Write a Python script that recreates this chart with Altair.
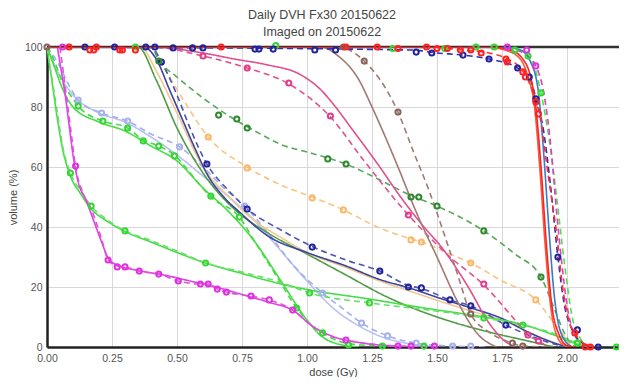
import altair as alt
import pandas as pd

# ---------------- curve data (dose Gy, volume %) ----------------
lav_plan_x = [0, 0.04, 0.1, 0.2, 0.3, 0.4, 0.5, 0.6, 0.7, 0.8, 0.9, 1.0, 1.1, 1.2, 1.3, 1.4, 1.5]
lav_plan_y = [100, 92, 84, 78, 75, 70, 64, 57, 50, 42, 32, 22, 13, 7, 3, 1, 0]
lav_daily_x = [0, 0.04, 0.08, 0.12, 0.21, 0.31, 0.40, 0.51, 0.60, 0.68, 0.76, 0.85, 0.95, 1.06, 1.15, 1.21, 1.31, 1.42, 1.56, 1.7]
lav_daily_y = [100, 95, 88, 82.3, 78, 75.3, 71, 66.7, 60, 53, 47, 38, 27, 18, 12, 8, 3.7, 1.3, 0.3, 0]
lav_mk_x = [0.12, 0.21, 0.31, 0.51, 0.76, 1.06, 1.21, 1.31, 1.42, 1.56, 1.63]
lav_mk_y = [82.3, 78, 75.3, 66.7, 47, 18, 8, 3.7, 1.3, 0.3, 0.3]

g1_plan_x = [0, 0.03, 0.06, 0.1, 0.2, 0.3, 0.4, 0.5, 0.6, 0.7, 0.8, 0.9, 1.0, 1.05, 1.1, 1.2]
g1_plan_y = [100, 93, 86, 80, 75, 72, 67, 62, 53, 45, 35, 22, 9, 4, 1.5, 0]
g1_daily_x = [0, 0.03, 0.06, 0.09, 0.12, 0.215, 0.31, 0.37, 0.43, 0.49, 0.56, 0.63, 0.74, 0.80, 0.88, 0.96, 1.02, 1.06, 1.12, 1.17, 1.3, 1.45]
g1_daily_y = [100, 95, 88, 84, 80.3, 75.3, 73, 69, 67, 64, 57, 50, 43.3, 35, 24, 13, 7, 4.7, 2, 1, 0.3, 0]
g1_mk_x = [0.12, 0.215, 0.31, 0.37, 0.43, 0.49, 0.63, 0.74, 0.96, 1.06, 1.16, 1.29, 1.45]
g1_mk_y = [80.3, 75.3, 73, 68.7, 67, 63.7, 50.3, 43.3, 13, 4.7, 0.7, 0.3, 0.3]

g2_plan_x = [0, 0.02, 0.04, 0.06, 0.09, 0.13, 0.17, 0.23, 0.30, 0.4, 0.5, 0.61, 0.75, 0.9, 1.01, 1.24, 1.45, 1.68, 1.83, 1.95, 2.04, 2.1]
g2_plan_y = [100, 88, 76, 66, 57, 51, 46, 42, 38.5, 35, 31.5, 28, 24.5, 21, 19, 16, 13, 10, 7.5, 4, 1, 0]
g2_daily_x = [0, 0.02, 0.04, 0.06, 0.09, 0.13, 0.17, 0.23, 0.30, 0.4, 0.5, 0.61, 0.75, 0.9, 1.01, 1.24, 1.45, 1.68, 1.83, 1.95, 2.04, 2.1]
g2_daily_y = [100, 89, 78, 67, 58, 52, 47, 42.5, 38.7, 35.5, 32, 28, 25, 21.5, 18, 14.7, 12.5, 9.7, 7.3, 4.5, 1.3, 0]
g2_mk_x = [0.09, 0.17, 0.30, 0.61, 1.01, 1.24, 1.68, 1.83, 2.04]
g2_mk_y = [58, 47, 38.7, 28, 18, 14.7, 9.7, 7.3, 1.3]

mag_plan_x = [0.04, 0.055, 0.07, 0.085, 0.10, 0.12, 0.15, 0.18, 0.21, 0.24, 0.28, 0.35, 0.45, 0.55, 0.65, 0.75, 0.85, 0.95, 1.02, 1.1, 1.2, 1.35, 1.5]
mag_plan_y = [100, 92, 84, 74, 64, 55, 49, 42, 35, 29, 27, 25.5, 24, 22, 20, 17.5, 15, 12, 7, 3.5, 1.5, 0.3, 0]
mag_daily_x = [0.05, 0.065, 0.08, 0.095, 0.11, 0.135, 0.17, 0.21, 0.235, 0.27, 0.30, 0.355, 0.43, 0.505, 0.59, 0.62, 0.655, 0.69, 0.785, 0.855, 0.945, 1.02, 1.08, 1.15, 1.25, 1.35, 1.5]
mag_daily_y = [100, 90, 80, 70, 60, 52, 46, 36, 29, 27, 26.7, 25.3, 24.3, 22, 21, 21, 19.3, 18.3, 17, 15.7, 12.3, 7, 4, 2.3, 1, 0.3, 0]
mag_mk_x = [0.06, 0.11, 0.235, 0.27, 0.30, 0.355, 0.43, 0.505, 0.59, 0.62, 0.655, 0.69, 0.785, 0.855, 0.945, 1.15, 1.35, 1.40, 1.49]
mag_mk_y = [100, 60.3, 29, 26.7, 26.7, 25.3, 24.3, 22, 21, 21, 19.3, 18.3, 17, 15.7, 12.3, 2.3, 0.3, 0.3, 0.3]

navy_plan_x = [0, 0.37, 0.42, 0.47, 0.52, 0.57, 0.62, 0.68, 0.74, 0.85, 1.0, 1.15, 1.28, 1.40, 1.52, 1.65, 1.75, 1.85, 1.93, 2.0]
navy_plan_y = [100, 100, 96, 86, 76, 66, 57, 50, 45, 37, 31.5, 27, 22.5, 19.5, 16, 12.5, 9.5, 5, 2, 0]
navy_daily_x = [0, 0.40, 0.44, 0.50, 0.55, 0.615, 0.70, 0.77, 0.9, 1.02, 1.15, 1.28, 1.39, 1.44, 1.55, 1.63, 1.765, 1.85, 1.95, 2.0]
navy_daily_y = [100, 100, 95, 84, 73, 61, 52, 46, 39, 33.5, 29, 25.3, 20.5, 19.5, 15.7, 13.7, 7.3, 4, 1, 0]
navy_mk_x = [0.44, 0.615, 0.77, 1.02, 1.28, 1.39, 1.44, 1.55, 1.63, 1.765]
navy_mk_y = [95, 61, 46, 33.3, 25.3, 20, 19.7, 15.7, 13.7, 7.3]

org_plan_x = [0, 0.36, 0.42, 0.5, 0.6, 0.7, 0.8, 0.9, 1.0, 1.15, 1.28, 1.4, 1.52, 1.65, 1.75, 1.85, 1.95, 2.0]
org_plan_y = [100, 100, 92, 78, 60, 50, 42, 36.5, 31.5, 26.5, 22, 18.5, 15, 11.5, 9, 5, 1.5, 0]
org_daily_x = [0, 0.40, 0.45, 0.52, 0.62, 0.77, 0.9, 1.02, 1.14, 1.27, 1.40, 1.44, 1.55, 1.63, 1.75, 1.88, 1.95, 2.02]
org_daily_y = [100, 100, 93, 83, 70, 60, 54, 50, 45.7, 40, 36, 35, 31, 28, 22, 15.7, 8, 0]
org_mk_x = [0.62, 0.77, 1.02, 1.14, 1.40, 1.44, 1.63, 1.88]
org_mk_y = [70, 59.7, 49.7, 45.7, 35.7, 35, 28, 15.7]

olive_plan_x = [0, 0.35, 0.42, 0.5, 0.6, 0.72, 0.85, 1.0, 1.15, 1.3, 1.5, 1.7, 1.85, 1.95]
olive_plan_y = [100, 100, 89, 73, 58, 46, 38, 31, 24, 17, 10, 5, 2, 0]
dkg_daily_x = [0, 0.40, 0.43, 0.5, 0.6, 0.7, 0.8, 0.9, 1.0, 1.08, 1.15, 1.25, 1.40, 1.50, 1.68, 1.80, 1.90, 1.95, 2.0, 2.03]
dkg_daily_y = [100, 100, 95.5, 90, 83, 77, 72, 67.5, 65, 63, 61, 57, 50.5, 47, 38.7, 31, 23.3, 13, 3, 0]
dkg_mk_x = [0.43, 0.66, 0.73, 0.77, 1.08, 1.15, 1.40, 1.43, 1.50, 1.68, 1.90]
dkg_mk_y = [95.3, 77.3, 76, 73, 62.7, 61, 50, 50, 47, 38.7, 23.3]

pink_plan_x = [0, 0.40, 0.6, 0.72, 0.85, 0.97, 1.05, 1.11, 1.17, 1.23, 1.28, 1.36, 1.45, 1.52, 1.62, 1.70, 1.76, 1.80]
pink_plan_y = [100, 100, 98, 96, 94, 91, 86, 80, 73, 66, 60, 50, 40, 33, 20, 8, 2, 0]
pink_daily_x = [0, 0.40, 0.60, 0.77, 0.93, 1.09, 1.22, 1.39, 1.55, 1.68, 1.80, 1.85, 1.89, 1.93]
pink_daily_y = [100, 100, 97, 93, 87.7, 76.7, 62, 44, 30, 20.7, 9, 4, 2, 0]
pink_mk_x = [0.60, 0.77, 0.93, 1.09, 1.39, 1.68, 1.85, 1.89]
pink_mk_y = [97, 93, 88, 77, 44, 21, 4, 2]

brown_plan_x = [0, 1.05, 1.12, 1.20, 1.25, 1.35, 1.42, 1.50, 1.58, 1.66, 1.73]
brown_plan_y = [100, 100, 97, 89, 80, 60, 45, 30, 15, 4, 0]
brown_daily_x = [0, 1.12, 1.22, 1.35, 1.41, 1.47, 1.53, 1.58, 1.63, 1.70, 1.79, 1.83, 1.94]
brown_daily_y = [100, 100, 95.3, 78.3, 65, 52, 37, 24, 11, 5, 1.3, 0.3, 0]
brown_mk_x = [0.0, 1.14, 1.22, 1.35, 1.63, 1.79, 1.83]
brown_mk_y = [100, 100, 95.3, 78.3, 11, 1.3, 0.3]

ptvo_plan_x = [0, 1.68, 1.76, 1.82, 1.85, 1.875, 1.895, 1.915, 1.935, 1.96, 1.99, 2.02]
ptvo_plan_y = [100, 100, 99, 96, 90, 80, 60, 35, 15, 4, 0.5, 0]
ptvb_plan_x = [0, 1.75, 1.82, 1.86, 1.89, 1.91, 1.93, 1.95, 1.98, 2.02]
ptvb_plan_y = [100, 100, 99, 95, 85, 65, 40, 18, 4, 0]
ptvr_plan_x = [0, 1.70, 1.78, 1.83, 1.86, 1.88, 1.90, 1.92, 1.94, 1.97, 2.0, 2.03]
ptvr_plan_y = [100, 100, 99, 96, 90, 80, 60, 35, 15, 4, 0.5, 0]
ptvg_daily_x = [0, 1.75, 1.82, 1.85, 1.88, 1.90, 1.93, 1.96, 1.99, 2.02, 2.05, 2.08]
ptvg_daily_y = [100, 100, 99, 97, 92, 84.7, 70, 50, 28, 10, 3, 0]
ptvg_mk_x = [0.34, 0.88, 1.33, 1.53, 1.65, 1.72, 1.80, 1.85, 1.90, 2.04, 2.19]
ptvg_mk_y = [100, 100.5, 99.5, 99.5, 100, 100, 99, 97, 84.7, 1.3, 0]
ptvm_daily_x = [0, 1.70, 1.80, 1.85, 1.88, 1.91, 1.94, 1.96, 1.98, 2.0, 2.03, 2.06, 2.1]
ptvm_daily_y = [100, 100, 99, 97, 93.7, 85, 65, 45, 28, 14, 4, 1, 0]
ptvm_mk_x = [1.77, 1.845, 1.88]
ptvm_mk_y = [100, 99, 93.7]
ptvn_daily_x = [0, 1.40, 1.50, 1.60, 1.70, 1.81, 1.855, 1.88, 1.91, 1.935, 1.965, 1.99, 2.02, 2.05, 2.1]
ptvn_daily_y = [100, 99, 98, 97.3, 96, 93, 90, 83, 72, 55, 30, 14, 5.7, 2, 0]
ptvn_mk_x = [0.146, 0.26, 0.38, 0.415, 0.485, 0.56, 0.60, 0.80, 0.815, 0.87, 1.03, 1.11, 1.42, 1.48, 1.60, 1.70, 1.81, 1.855, 1.88, 1.965, 2.04, 2.12]
ptvn_mk_y = [100, 100, 100, 100, 99.7, 99.7, 99.7, 99.3, 99.3, 99.3, 99, 99, 98.3, 98, 97.3, 96, 93, 90, 82.7, 30, 5.7, 0]
ptvr_daily_x = [0, 1.45, 1.60, 1.70, 1.77, 1.83, 1.88, 1.90, 1.92, 1.94, 1.96, 1.98, 2.01, 2.03, 2.06, 2.1]
ptvr_daily_y = [100, 100, 99, 98, 96, 92, 82, 75, 62, 50, 38, 22, 8, 4.5, 1.5, 0]
ptvr_mk_x = [0.085, 0.165, 0.18, 0.19, 0.28, 0.29, 0.34, 0.67, 1.15, 1.27, 1.35, 1.46, 1.50, 1.54, 1.59, 1.63, 1.67, 1.765, 1.77, 1.83, 1.84, 1.88, 1.89, 2.03, 2.07, 2.09]
ptvr_mk_y = [100, 99, 99, 100, 99, 99, 99, 100, 100, 100, 99.5, 100, 99.5, 99.5, 99, 99, 98, 96, 95, 91.7, 90, 81.7, 77.7, 4.7, 0, 0]

x_ticks = [0, 0.25, 0.5, 0.75, 1.0, 1.25, 1.5, 1.75, 2.0]
y_ticks = [0, 20, 40, 60, 80, 100]

# (name, x, y, color, style)
line_series = [
    ("s01", lav_plan_x, lav_plan_y, "#b8c0f2", "solid"),
    ("s02", lav_daily_x, lav_daily_y, "#a4aeea", "dashed"),
    ("s03", olive_plan_x, olive_plan_y, "#4f9a45", "solid"),
    ("s04", org_plan_x, org_plan_y, "#f2c890", "solid"),
    ("s05", org_daily_x, org_daily_y, "#f8c480", "dashed"),
    ("s06", navy_plan_x, navy_plan_y, "#3a44a0", "solid"),
    ("s07", navy_daily_x, navy_daily_y, "#4a54b0", "dashed"),
    ("s08", dkg_daily_x, dkg_daily_y, "#58a858", "dashed"),
    ("s09", g1_plan_x, g1_plan_y, "#44dd44", "solid"),
    ("s10", g1_daily_x, g1_daily_y, "#44dd44", "dashed"),
    ("s11", g2_plan_x, g2_plan_y, "#44dd44", "solid"),
    ("s12", g2_daily_x, g2_daily_y, "#66e066", "dashed"),
    ("s13", mag_plan_x, mag_plan_y, "#e040e0", "solid"),
    ("s14", mag_daily_x, mag_daily_y, "#e050e0", "dashed"),
    ("s15", pink_plan_x, pink_plan_y, "#e0508e", "solid"),
    ("s16", pink_daily_x, pink_daily_y, "#e0508e", "dashed"),
    ("s17", brown_plan_x, brown_plan_y, "#a07a72", "solid"),
    ("s18", brown_daily_x, brown_daily_y, "#a07a72", "dashed"),
    ("s19", ptvg_daily_x, ptvg_daily_y, "#50e050", "dashed"),
    ("s20", ptvm_daily_x, ptvm_daily_y, "#e040c0", "dashed"),
    ("s21", ptvn_daily_x, ptvn_daily_y, "#3030b0", "dashed"),
    ("s22", ptvo_plan_x, ptvo_plan_y, "#f06040", "solid"),
    ("s23", ptvb_plan_x, ptvb_plan_y, "#3a7ac8", "solid"),
    ("s24", ptvr_daily_x, ptvr_daily_y, "#ff3030", "dashed"),
    ("s25", ptvr_plan_x, ptvr_plan_y, "#ff2020", "solid"),
]
marker_series = [
    ("m01", lav_mk_x, lav_mk_y, "#a8b0f0"),
    ("m02", org_mk_x, org_mk_y, "#f8b868"),
    ("m03", navy_mk_x, navy_mk_y, "#22229a"),
    ("m04", dkg_mk_x, dkg_mk_y, "#2e8a2e"),
    ("m05", g1_mk_x, g1_mk_y, "#33d633"),
    ("m06", g2_mk_x, g2_mk_y, "#33d633"),
    ("m07", mag_mk_x, mag_mk_y, "#e030e0"),
    ("m08", pink_mk_x, pink_mk_y, "#e03c8a"),
    ("m09", brown_mk_x, brown_mk_y, "#8a6258"),
    ("m10", ptvg_mk_x, ptvg_mk_y, "#33d633"),
    ("m11", ptvm_mk_x, ptvm_mk_y, "#e030e0"),
    ("m12", ptvn_mk_x, ptvn_mk_y, "#22229a"),
    ("m13", ptvr_mk_x, ptvr_mk_y, "#ff2020"),
]

line_rows = []
for name, xs, ys, col, sty in line_series:
    for i, (xv, yv) in enumerate(zip(xs, ys)):
        line_rows.append({"s": name, "x": xv, "y": yv, "style": sty, "i": i})
mk_rows = []
for name, xs, ys, col in marker_series:
    for xv, yv in zip(xs, ys):
        mk_rows.append({"s": name, "x": xv, "y": yv})

dom = [s[0] for s in line_series] + [m[0] for m in marker_series]
rng = [s[3] for s in line_series] + [m[3] for m in marker_series]
color_scale = alt.Scale(domain=dom, range=rng)

xenc = alt.X("x:Q", scale=alt.Scale(domain=[0, 2.2], nice=False, zero=False),
             axis=alt.Axis(values=x_ticks, format=".2f", title="dose (Gy)", ticks=False,
                           grid=True, gridColor="#d8d8d8", domainColor="#222", domainWidth=2.5,
                           labelPadding=6, titlePadding=3, labelFlush=False))
yenc = alt.Y("y:Q", scale=alt.Scale(domain=[0, 100], nice=False),
             axis=alt.Axis(values=y_ticks, title="volume (%)", ticks=False, grid=True,
                           gridColor="#d8d8d8", domainColor="#222", domainWidth=2.5,
                           labelPadding=5, titlePadding=6))

top_rule = alt.Chart(pd.DataFrame({"y": [100]})).mark_rule(color="#333", strokeWidth=2.5).encode(
    y=alt.Y("y:Q", scale=alt.Scale(domain=[0, 100], nice=False)))

lines = alt.Chart(pd.DataFrame(line_rows)).mark_line(strokeWidth=1.6, interpolate="monotone", clip=True).encode(
    x=xenc, y=yenc,
    color=alt.Color("s:N", scale=color_scale, legend=None),
    strokeDash=alt.StrokeDash("style:N", scale=alt.Scale(domain=["solid", "dashed"], range=[[1, 0], [6, 4]]), legend=None),
    detail="s:N",
    order="i:Q",
)

points = alt.Chart(pd.DataFrame(mk_rows)).mark_point(shape="circle", filled=False, size=26, strokeWidth=2, opacity=1).encode(
    x="x:Q", y="y:Q",
    color=alt.Color("s:N", scale=color_scale, legend=None),
)

chart = alt.layer(top_rule, lines, points).properties(
    width=572, height=300,
    autosize=alt.AutoSizeParams(type="none"),
    padding={"left": 39, "top": 39, "right": 0, "bottom": 30},
    background="white",
    title=alt.TitleParams(text=["Daily DVH Fx30 20150622", "Imaged on 20150622"], fontSize=12.5,
                          font="Liberation Sans", fontWeight="normal", color="#444", lineHeight=17,
                          anchor="middle", dx=-11, offset=0),
).configure_view(stroke=None).configure_axis(
    labelFont="Liberation Sans", labelFontSize=10.5, labelColor="#555",
    titleFont="Liberation Sans", titleFontSize=11, titleColor="#444", titleFontWeight="normal",
)

chart.save("out.html", embed_options={"renderer": "svg", "actions": False})
